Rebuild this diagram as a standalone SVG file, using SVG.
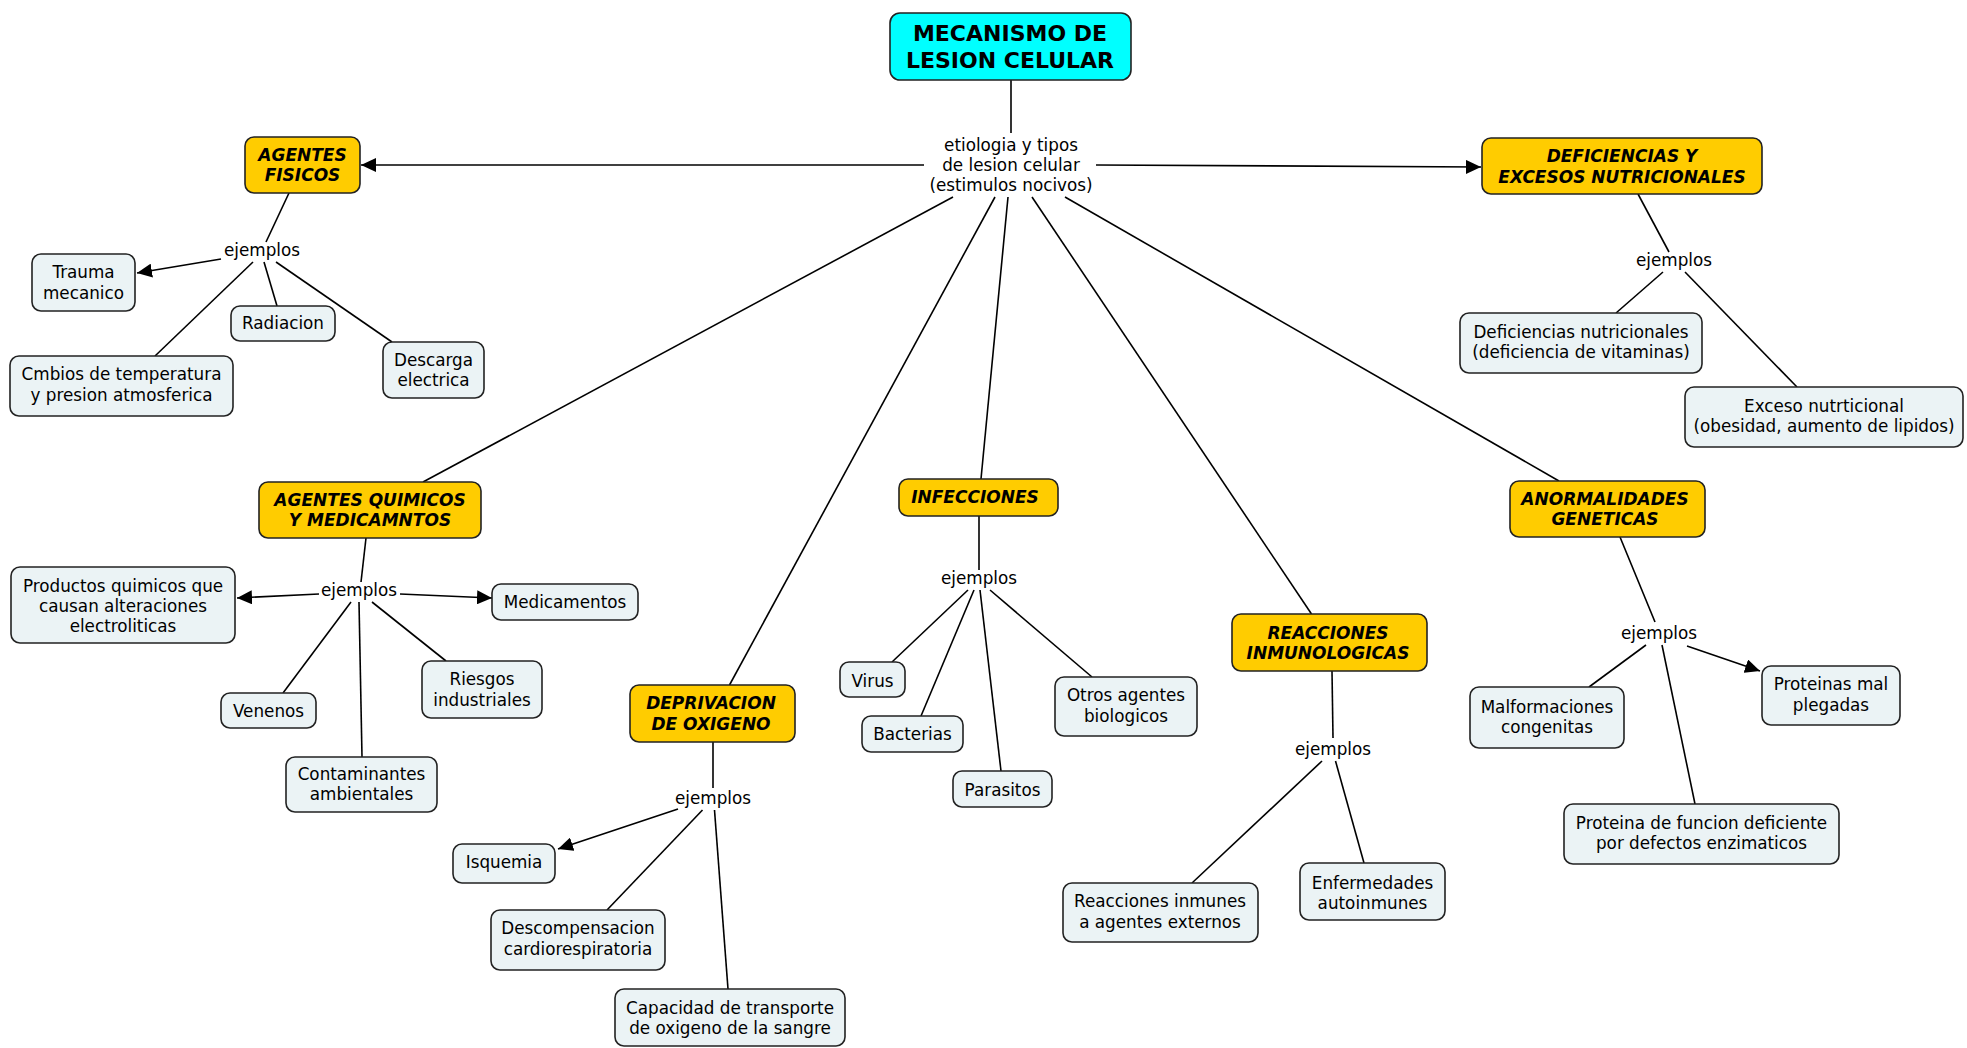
<svg xmlns="http://www.w3.org/2000/svg" width="1967" height="1048" viewBox="0 0 1967 1048">
<style>
text{font-family:'DejaVu Sans',Verdana,sans-serif;font-size:16.8px;fill:#000;text-anchor:middle}
.cat{font-weight:bold;font-style:italic;font-size:17px}
.ttl{font-weight:bold;font-size:22px}
.bx{stroke:#222;stroke-width:1.6}
.root{fill:#00FFFF}
.gold{fill:#FFCC00}
.leaf{fill:#EBF3F5}
#links line{stroke:#000;stroke-width:1.6;fill:none}
</style>
<defs>
<marker id="ar" markerUnits="userSpaceOnUse" markerWidth="16" markerHeight="14" refX="15" refY="7" orient="auto">
<path d="M0,0 L15,7 L0,14 z" fill="#000"/>
</marker>
</defs>
<rect width="1967" height="1048" fill="#fff"/>
<g id="links">
<line x1="1011" y1="80" x2="1011" y2="133"/>
<line x1="924" y1="165" x2="361" y2="165" marker-end="url(#ar)"/>
<line x1="1096" y1="165" x2="1481" y2="167" marker-end="url(#ar)"/>
<line x1="953" y1="197" x2="423" y2="482"/>
<line x1="995" y1="197" x2="729.5" y2="685"/>
<line x1="1008" y1="197" x2="981" y2="479"/>
<line x1="1032" y1="197" x2="1311.5" y2="614"/>
<line x1="1065" y1="197" x2="1559" y2="481"/>
<line x1="289" y1="193" x2="266" y2="242"/>
<line x1="221" y1="259" x2="137" y2="273" marker-end="url(#ar)"/>
<line x1="264" y1="262" x2="277" y2="306"/>
<line x1="276" y1="262" x2="392" y2="342"/>
<line x1="253" y1="262" x2="155" y2="356"/>
<line x1="1638" y1="194" x2="1669" y2="252"/>
<line x1="1663" y1="272" x2="1616" y2="313"/>
<line x1="1685" y1="272" x2="1797" y2="387"/>
<line x1="366" y1="538" x2="361" y2="582"/>
<line x1="319" y1="594" x2="237" y2="598" marker-end="url(#ar)"/>
<line x1="400" y1="594" x2="492" y2="598" marker-end="url(#ar)"/>
<line x1="351" y1="602" x2="283" y2="693"/>
<line x1="359" y1="602" x2="362" y2="757"/>
<line x1="372" y1="602" x2="446" y2="661"/>
<line x1="979" y1="516" x2="979" y2="570"/>
<line x1="968" y1="590" x2="892" y2="662"/>
<line x1="974" y1="590" x2="921" y2="716"/>
<line x1="980" y1="590" x2="1001" y2="771"/>
<line x1="990" y1="590" x2="1092" y2="677"/>
<line x1="713" y1="742" x2="713" y2="788"/>
<line x1="678" y1="809" x2="558" y2="849" marker-end="url(#ar)"/>
<line x1="702.5" y1="810" x2="607" y2="910"/>
<line x1="714.5" y1="810" x2="728" y2="989"/>
<line x1="1332" y1="671" x2="1333" y2="738"/>
<line x1="1322" y1="761" x2="1192" y2="883"/>
<line x1="1335.5" y1="761" x2="1364" y2="863"/>
<line x1="1620" y1="537" x2="1655" y2="622"/>
<line x1="1646" y1="645" x2="1589" y2="687"/>
<line x1="1687" y1="646" x2="1760" y2="671" marker-end="url(#ar)"/>
<line x1="1662" y1="645" x2="1695" y2="804"/>
</g>
<g id="labels">
<text x="1011" y="151">etiologia y tipos</text>
<text x="1011" y="171">de lesion celular</text>
<text x="1011" y="191">(estimulos nocivos)</text>
<text x="262" y="256">ejemplos</text>
<text x="1674" y="266">ejemplos</text>
<text x="359" y="596">ejemplos</text>
<text x="979" y="584">ejemplos</text>
<text x="713" y="804">ejemplos</text>
<text x="1333" y="755">ejemplos</text>
<text x="1659" y="639">ejemplos</text>
</g>
<g id="n-root"><rect class="bx root" x="890" y="13" width="241" height="67" rx="10"/><text class="ttl" x="1010" y="41">MECANISMO DE</text><text class="ttl" x="1010" y="68">LESION CELULAR</text></g>
<g id="n-fisicos"><rect class="bx gold" x="245" y="137" width="115" height="56" rx="9"/><text class="cat" x="302.5" y="161">AGENTES</text><text class="cat" x="302.5" y="181">FISICOS</text></g>
<g id="n-deficiencias"><rect class="bx gold" x="1482" y="138" width="280" height="56" rx="9"/><text class="cat" x="1622" y="162">DEFICIENCIAS Y</text><text class="cat" x="1622" y="183">EXCESOS NUTRICIONALES</text></g>
<g id="n-quimicos"><rect class="bx gold" x="259" y="482" width="222" height="56" rx="9"/><text class="cat" x="370" y="506">AGENTES QUIMICOS</text><text class="cat" x="370" y="526">Y MEDICAMNTOS</text></g>
<g id="n-infecciones"><rect class="bx gold" x="899" y="479" width="159" height="37" rx="9"/><text class="cat" x="975" y="503">INFECCIONES</text></g>
<g id="n-deprivacion"><rect class="bx gold" x="630" y="685" width="165" height="57" rx="9"/><text class="cat" x="711" y="709">DEPRIVACION</text><text class="cat" x="711" y="730">DE OXIGENO</text></g>
<g id="n-reacciones"><rect class="bx gold" x="1232" y="614" width="195" height="57" rx="9"/><text class="cat" x="1328" y="639">REACCIONES</text><text class="cat" x="1328" y="659">INMUNOLOGICAS</text></g>
<g id="n-anormalidades"><rect class="bx gold" x="1510" y="481" width="195" height="56" rx="9"/><text class="cat" x="1605" y="505">ANORMALIDADES</text><text class="cat" x="1605" y="525">GENETICAS</text></g>
<g id="n-trauma"><rect class="bx leaf" x="32" y="254" width="103" height="57" rx="9"/><text x="83.5" y="278">Trauma</text><text x="83.5" y="299">mecanico</text></g>
<g id="n-radiacion"><rect class="bx leaf" x="231" y="306" width="104" height="35" rx="9"/><text x="283" y="329">Radiacion</text></g>
<g id="n-descarga"><rect class="bx leaf" x="383" y="342" width="101" height="56" rx="9"/><text x="433.5" y="366">Descarga</text><text x="433.5" y="386">electrica</text></g>
<g id="n-cmbios"><rect class="bx leaf" x="10" y="356" width="223" height="60" rx="9"/><text x="121.5" y="380">Cmbios de temperatura</text><text x="121.5" y="401">y presion atmosferica</text></g>
<g id="n-defnut"><rect class="bx leaf" x="1460" y="313" width="242" height="60" rx="9"/><text x="1581" y="338">Deficiencias nutricionales</text><text x="1581" y="358">(deficiencia de vitaminas)</text></g>
<g id="n-exceso"><rect class="bx leaf" x="1685" y="387" width="278" height="60" rx="9"/><text x="1824" y="412">Exceso nutrticional</text><text x="1824" y="432">(obesidad, aumento de lipidos)</text></g>
<g id="n-productos"><rect class="bx leaf" x="11" y="567" width="224" height="76" rx="9"/><text x="123" y="592">Productos quimicos que</text><text x="123" y="612">causan alteraciones</text><text x="123" y="632">electroliticas</text></g>
<g id="n-medicamentos"><rect class="bx leaf" x="492" y="584" width="146" height="36" rx="9"/><text x="565" y="608">Medicamentos</text></g>
<g id="n-venenos"><rect class="bx leaf" x="221" y="693" width="95" height="35" rx="9"/><text x="268.5" y="717">Venenos</text></g>
<g id="n-contaminantes"><rect class="bx leaf" x="286" y="757" width="151" height="55" rx="9"/><text x="361.5" y="780">Contaminantes</text><text x="361.5" y="800">ambientales</text></g>
<g id="n-riesgos"><rect class="bx leaf" x="422" y="661" width="120" height="57" rx="9"/><text x="482" y="685">Riesgos</text><text x="482" y="706">industriales</text></g>
<g id="n-virus"><rect class="bx leaf" x="840" y="662" width="65" height="35" rx="9"/><text x="872.5" y="687">Virus</text></g>
<g id="n-bacterias"><rect class="bx leaf" x="862" y="716" width="101" height="36" rx="9"/><text x="912.5" y="740">Bacterias</text></g>
<g id="n-parasitos"><rect class="bx leaf" x="953" y="771" width="99" height="36" rx="9"/><text x="1002.5" y="796">Parasitos</text></g>
<g id="n-otros"><rect class="bx leaf" x="1055" y="677" width="142" height="59" rx="9"/><text x="1126" y="701">Otros agentes</text><text x="1126" y="722">biologicos</text></g>
<g id="n-isquemia"><rect class="bx leaf" x="453" y="844" width="102" height="39" rx="9"/><text x="504" y="868">Isquemia</text></g>
<g id="n-descompensacion"><rect class="bx leaf" x="491" y="910" width="174" height="60" rx="9"/><text x="578" y="934">Descompensacion</text><text x="578" y="955">cardiorespiratoria</text></g>
<g id="n-capacidad"><rect class="bx leaf" x="615" y="989" width="230" height="57" rx="9"/><text x="730" y="1014">Capacidad de transporte</text><text x="730" y="1034">de oxigeno de la sangre</text></g>
<g id="n-inmunes"><rect class="bx leaf" x="1063" y="883" width="195" height="59" rx="9"/><text x="1160" y="907">Reacciones inmunes</text><text x="1160" y="928">a agentes externos</text></g>
<g id="n-autoinmunes"><rect class="bx leaf" x="1300" y="863" width="145" height="57" rx="9"/><text x="1372.5" y="889">Enfermedades</text><text x="1372.5" y="909">autoinmunes</text></g>
<g id="n-malformaciones"><rect class="bx leaf" x="1470" y="687" width="154" height="61" rx="9"/><text x="1547" y="713">Malformaciones</text><text x="1547" y="733">congenitas</text></g>
<g id="n-proteinas"><rect class="bx leaf" x="1762" y="666" width="138" height="59" rx="9"/><text x="1831" y="690">Proteinas mal</text><text x="1831" y="711">plegadas</text></g>
<g id="n-proteina"><rect class="bx leaf" x="1564" y="804" width="275" height="60" rx="9"/><text x="1701.5" y="829">Proteina de funcion deficiente</text><text x="1701.5" y="849">por defectos enzimaticos</text></g>
</svg>
